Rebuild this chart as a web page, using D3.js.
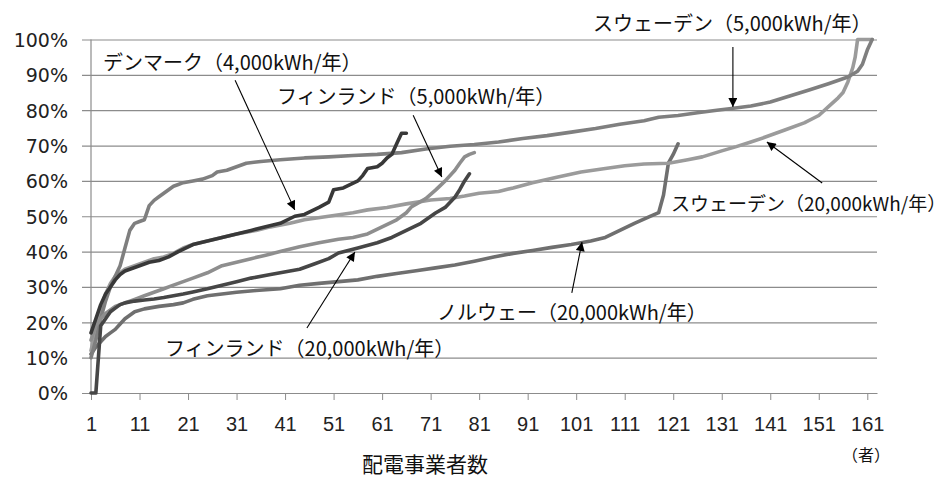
<!DOCTYPE html>
<html>
<head>
<meta charset="utf-8">
<script src="https://cdn.jsdelivr.net/npm/d3@7"></script>
<style>
  body { margin: 0; background: #fff; }
  svg { display: block; }
</style>
</head>
<body>
<div id="chart"></div>
<script>
// data: [rank of utility, share %] (sorted curves)
var sweden5000 = [[1,10],[2,15],[3,21],[4,26],[5,30],[6,33],[7,36],[8,41],[9,46],[10,48],[11,48.5],[12,49],[13,53],[14,54.5],[15,55.5],[16,56.5],[17,57.5],[18,58.5],[19,59],[20,59.5],[22,60],[24,60.5],[26,61.5],[27,62.5],[29,63],[31,64],[33,65],[36,65.5],[40,66],[45,66.5],[50,66.8],[55,67.2],[60,67.5],[65,68],[70,69],[75,69.8],[80,70.3],[85,71],[90,72],[95,72.8],[100,73.8],[105,74.8],[110,76],[115,77],[118,78],[122,78.5],[126,79.3],[130,80],[133,80.5],[137,81.2],[141,82.3],[145,84],[149,85.7],[153,87.5],[157,89.4],[159,91],[160,93],[161,97],[162,100]];
var sweden20000 = [[1,12],[2,18],[3,24],[4,28],[5,31],[6,33],[7,34],[8,35],[9,35.5],[10,36],[12,37],[14,38],[16,38.5],[18,39.5],[20,41],[22,42],[25,43],[28,44],[31,45],[35,46],[38,47],[42,48],[45,49],[50,50],[55,51],[58,51.8],[62,52.5],[66,53.5],[71,54.6],[75,55],[78,55.7],[81,56.5],[85,57],[88,58],[92,59.5],[97,61],[102,62.5],[107,63.5],[111,64.3],[115,64.8],[120,65],[124,66],[127,66.8],[131,68.5],[134,69.7],[137,71],[140,72.4],[144,74.4],[148,76.4],[151,78.5],[153,81],[155,83.5],[156,85],[157,88],[158,92],[158.5,95],[159,100],[162,100]];
var denmark4000 = [[1,17],[2,21],[3,25],[4,28],[5,30],[6,32],[7,33.5],[8,34.5],[9,35],[11,36],[13,37],[15,37.5],[17,38.5],[19,40],[22,42],[25,43],[28,44],[31,45],[34,46],[37,47],[40,48],[43,50],[45,50.5],[48,52.5],[50,54],[51,57.5],[53,58],[56,60],[57,61.5],[58,63.5],[60,64],[61,65],[62,66.5],[63,67.5],[64,70.5],[65,73.5],[66,73.5]];
var finland5000 = [[1,15],[2,19],[3,21],[4,22.5],[5,23.5],[6,24.5],[8,25.5],[10,26.5],[12,27.5],[14,28.5],[16,29.5],[18,30.5],[20,31.5],[22,32.5],[25,34],[28,36],[31,37],[34,38],[37,39],[40,40],[44,41.4],[48,42.5],[52,43.5],[55,44],[58,45],[61,47],[64,49],[66,51],[67,52.6],[70,55],[72,57.4],[74,60],[76,63],[77,65],[78,66.8],[79,67.5],[80,68]];
var finland20000 = [[1,0],[2,0],[3,19],[4,21],[5,23],[6,24],[7,25],[8,25.5],[10,26],[12,26.3],[14,26.6],[16,27],[18,27.5],[20,28],[22,28.6],[25,29.5],[28,30.5],[31,31.5],[34,32.5],[38,33.5],[42,34.5],[44,35],[47,36.5],[50,38],[52,39.6],[54,40.3],[56,41],[60,42.5],[63,44],[66,46],[69,48],[72,50.9],[74,52.5],[76,55.4],[77,57.5],[78,60],[79,62]];
var norway20000 = [[1,11],[2,13],[3,14.5],[4,16],[5,17],[6,18],[7,19.5],[8,21],[9,22],[10,23],[12,23.8],[15,24.5],[18,25],[20,25.5],[22,26.5],[25,27.5],[28,28],[31,28.5],[35,29],[40,29.5],[44,30.5],[48,31],[52,31.5],[56,32],[60,33],[64,33.8],[68,34.6],[72,35.4],[76,36.2],[80,37.3],[84,38.5],[88,39.5],[92,40.3],[96,41.2],[100,42],[104,43],[107,44],[110,46],[113,48],[116,49.8],[118,51],[119,56],[120,65],[121,67.5],[122,70.5]];

var xTicks = [1, 11, 21, 31, 41, 51, 61, 71, 81, 91, 101, 111, 121, 131, 141, 151, 161];
var yTicks = [0, 10, 20, 30, 40, 50, 60, 70, 80, 90, 100];

var seriesList = [
  { name: "ノルウェー（20,000kWh/年）", values: norway20000, color: "#6f6f6f" },
  { name: "スウェーデン（20,000kWh/年）", values: sweden20000, color: "#9b9b9b" },
  { name: "スウェーデン（5,000kWh/年）", values: sweden5000, color: "#7f7f7f" },
  { name: "フィンランド（5,000kWh/年）", values: finland5000, color: "#8e8e8e" },
  { name: "フィンランド（20,000kWh/年）", values: finland20000, color: "#464646" },
  { name: "デンマーク（4,000kWh/年）", values: denmark4000, color: "#383838" }
];

// label text position (px) and arrow tail/tip in data units [rank, %]
var notes = [
  { text: "デンマーク（4,000kWh/年）", lx: 103, ly: 70, size: 20, from: [30.7, 88.5], to: [43.0, 51.8] },
  { text: "フィンランド（5,000kWh/年）", lx: 277, ly: 104, size: 20, from: [67.4, 78.6], to: [73.3, 61.1] },
  { text: "スウェーデン（5,000kWh/年）", lx: 593, ly: 31, size: 20, from: [133.3, 97.9], to: [133.3, 80.9] },
  { text: "スウェーデン（20,000kWh/年）", lx: 671, ly: 211, size: 19, from: [151.7, 59.4], to: [140.3, 71.0] },
  { text: "ノルウェー（20,000kWh/年）", lx: 437, ly: 320, size: 20, from: [100.1, 28.3], to: [102.2, 42.7] },
  { text: "フィンランド（20,000kWh/年）", lx: 165, ly: 356, size: 20, from: [45.5, 18.4], to: [55.4, 39.9] }
];

var W = 947, H = 481;
var margin = { top: 39.5, left: 91 };
var width = 786, height = 353.5;

var svg = d3.select("#chart")
  .append("svg")
  .attr("width", W)
  .attr("height", H);

var defs = svg.append("defs");
defs.append("marker")
  .attr("id", "arrow")
  .attr("viewBox", "0 0 10 10")
  .attr("refX", 10)
  .attr("refY", 5)
  .attr("markerWidth", 11)
  .attr("markerHeight", 9)
  .attr("markerUnits", "userSpaceOnUse")
  .attr("orient", "auto")
  .append("path")
  .attr("d", "M0,0 L10,5 L0,10 Z")
  .attr("fill", "#000");

var g = svg.append("g")
  .attr("transform", "translate(" + margin.left + "," + margin.top + ")");

var x = d3.scaleLinear().domain([1, 163]).range([0, width]);
var y = d3.scaleLinear().domain([0, 100]).range([height, 0]);

// gridlines + y axis
var yAxis = g.append("g")
  .call(d3.axisLeft(y)
    .tickValues(yTicks)
    .tickSize(-width)
    .tickFormat(function (d) { return d + "%"; }));
yAxis.select(".domain").remove();
yAxis.selectAll(".tick line")
  .attr("x1", -9)
  .attr("stroke", "#8c8c8c")
  .attr("stroke-width", 1.2);
yAxis.selectAll(".tick text")
  .attr("x", -23)
  .attr("dy", "0.36em")
  .attr("fill", "#222")
  .style("font-family", "'DejaVu Sans', sans-serif")
  .style("font-size", "19px");

// y axis line
g.append("line")
  .attr("x1", 0).attr("x2", 0)
  .attr("y1", 0).attr("y2", height)
  .attr("stroke", "#8c8c8c")
  .attr("stroke-width", 1.2);

// x axis
var xAxis = g.append("g")
  .attr("transform", "translate(0," + height + ")")
  .call(d3.axisBottom(x).tickValues(xTicks).tickSize(7).tickSizeOuter(0));
xAxis.select(".domain").attr("stroke", "#8c8c8c").attr("stroke-width", 1.2);
xAxis.selectAll(".tick line").attr("stroke", "#8c8c8c");
xAxis.selectAll(".tick text")
  .attr("y", 24)
  .attr("dy", "0.71em")
  .attr("fill", "#222")
  .style("font-family", "'Liberation Sans', sans-serif")
  .style("font-size", "20px");

// lines
var line = d3.line()
  .x(function (d) { return x(d[0]); })
  .y(function (d) { return y(d[1]); });

g.selectAll(".series")
  .data(seriesList)
  .enter()
  .append("path")
  .attr("class", "series")
  .attr("d", function (d) { return line(d.values); })
  .attr("fill", "none")
  .attr("stroke", function (d) { return d.color; })
  .attr("stroke-width", 3.6)
  .attr("stroke-linejoin", "round")
  .attr("stroke-linecap", "round");

// annotations
g.selectAll(".arrow")
  .data(notes)
  .enter()
  .append("line")
  .attr("class", "arrow")
  .attr("x1", function (d) { return x(d.from[0]); })
  .attr("y1", function (d) { return y(d.from[1]); })
  .attr("x2", function (d) { return x(d.to[0]); })
  .attr("y2", function (d) { return y(d.to[1]); })
  .attr("stroke", "#000")
  .attr("stroke-width", 1.1)
  .attr("marker-end", "url(#arrow)");

svg.selectAll(".note")
  .data(notes)
  .enter()
  .append("text")
  .attr("class", "note")
  .attr("x", function (d) { return d.lx; })
  .attr("y", function (d) { return d.ly; })
  .attr("fill", "#111")
  .style("font-family", "'Noto Sans CJK JP', sans-serif")
  .style("font-size", function (d) { return d.size + "px"; })
  .text(function (d) { return d.text; });

// axis titles
svg.append("text")
  .attr("x", 425)
  .attr("y", 472)
  .attr("text-anchor", "middle")
  .attr("fill", "#111")
  .style("font-family", "'Noto Sans CJK JP', sans-serif")
  .style("font-size", "21px")
  .text("配電事業者数");

svg.append("text")
  .attr("x", 866)
  .attr("y", 461)
  .attr("text-anchor", "middle")
  .attr("fill", "#111")
  .style("font-family", "'Noto Sans CJK JP', sans-serif")
  .style("font-size", "16px")
  .text("（者）");
</script>
</body>
</html>
